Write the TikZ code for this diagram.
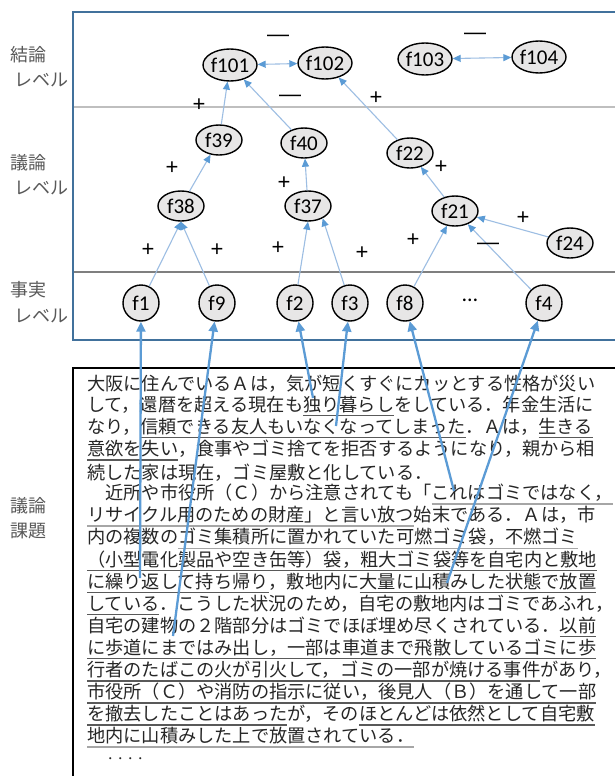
\documentclass[tikz,border=0pt]{standalone}
\usepackage{fontspec}
\setmainfont{Liberation Sans}
\newfontfamily\jp{Noto Sans CJK JP}
\newfontfamily\nf{Carlito}
\usetikzlibrary{arrows.meta,shapes.geometric}
\definecolor{framebl}{HTML}{41719C}
\definecolor{sepl}{HTML}{BFBFBF}
\definecolor{sepd}{HTML}{7F7F7F}
\definecolor{linkc}{HTML}{9DBEE3}
\definecolor{tipc}{HTML}{5B9BD5}
\definecolor{srcc}{HTML}{5B9BD5}
\definecolor{nodefill}{HTML}{E7E6E6}
\definecolor{lab}{HTML}{595959}
\definecolor{ulc}{HTML}{595959}
\definecolor{ulg}{HTML}{A6A6A6}
\definecolor{txt}{HTML}{262626}
\newcommand\zw[1]{\makebox[0pt]{#1}}
\newcommand\jul[2][ulc]{{\setbox0\hbox{#2}\rlap{\color{#1}\rule[-5pt]{\wd0}{1.3pt}}\box0}}
\tikzset{
  topnode/.style={ellipse, draw=black, line width=1.4pt, fill=nodefill, minimum width=54pt, minimum height=32pt, inner sep=0pt, font=\nf\fontsize{21}{21}\selectfont},
  midnode/.style={topnode, minimum width=46pt, minimum height=30pt},
  factnode/.style={topnode, minimum width=36pt, minimum height=36pt},
  link/.style={draw=linkc, line width=1.1pt, -{Triangle[length=8pt,width=7pt,color=tipc]}},
  dlink/.style={draw=linkc, line width=1.1pt, {Triangle[length=8pt,width=7pt,color=tipc]}-{Triangle[length=8pt,width=7pt,color=tipc]}},
  src/.style={draw=srcc, line width=2.3pt, -{Triangle[length=10pt,width=9pt]}},
  sign/.style={font=\fontsize{22}{22}\selectfont, inner sep=0pt},
  lvl/.style={font=\jp\fontsize{18}{18}\selectfont, text=lab, anchor=west, inner sep=0pt},
  tl/.style={font=\jp\fontsize{18.2}{22}\selectfont, text=txt, anchor=west, inner sep=0pt},
}
\begin{document}
\begin{tikzpicture}[x=1pt,y=-1pt]
\fill[white] (0,0) rectangle (615,776);
\useasboundingbox (0,0) rectangle (615,776);
% frames
\draw[sepl, line width=2pt] (74,107) -- (615,107);
\draw[sepd, line width=2pt] (74,272) -- (615,272);
\draw[framebl, line width=2pt] (615,12) -- (73,12) -- (73,340) -- (615,340);
\draw[black, line width=2.5pt] (615,368) -- (73,368) -- (73,777);
% level labels
\node[lvl] (l1a) at (10,55) {結論};
\node[lvl] (l1b) at (14,80) {レベル};
\node[lvl] (l2a) at (10,163) {議論};
\node[lvl] (l2b) at (14,188) {レベル};
\node[lvl] (l3a) at (10,290) {事実};
\node[lvl] (l3b) at (14,316) {レベル};
\node[lvl] (l4a) at (10,506) {議論};
\node[lvl] (l4b) at (10,531) {課題};
% nodes
\node[topnode] (f101) at (230,65) {\zw{f101}};
\node[topnode] (f102) at (325,63) {\zw{f102}};
\node[topnode] (f103) at (425,59) {\zw{f103}};
\node[topnode] (f104) at (539,57) {\zw{f104}};
\node[midnode] (f39) at (219,140) {\zw{f39}};
\node[midnode] (f40) at (304,143) {\zw{f40}};
\node[midnode] (f22) at (410,153) {\zw{f22}};
\node[midnode] (f38) at (181,206) {\zw{f38}};
\node[midnode] (f37) at (308,206) {\zw{f37}};
\node[midnode] (f21) at (455,211) {\zw{f21}};
\node[midnode] (f24) at (570,243) {\zw{f24}};
\node[factnode] (f1) at (141,303) {\zw{f1}};
\node[factnode] (f9) at (217,303) {\zw{f9}};
\node[factnode] (f2) at (295,303) {\zw{f2}};
\node[factnode] (f3) at (350,303) {\zw{f3}};
\node[factnode] (f8) at (405,303) {\zw{f8}};
\node[font=\nf\fontsize{22}{22}\selectfont, inner sep=0pt] (dots) at (470,300) {…};
\node[factnode] (f4) at (544,303) {\zw{f4}};
% links
\draw[dlink] (f101) -- (f102);
\draw[dlink] (f103) -- (f104);
\draw[link] (f39) -- (f101);
\draw[link] (f40) -- (f101);
\draw[link] (f22) -- (f102);
\draw[link] (f38) -- (f39);
\draw[link] (f37) -- (f40);
\draw[link] (f21) -- (f22);
\draw[link] (f1) -- (f38.south);
\draw[link] (f9) -- (f38.south);
\draw[link] (f2) -- (f37.south);
\draw[link] (f3) -- (f37.-40);
\draw[link] (f8) -- (f21);
\draw[link] (f4) -- (f21);
\draw[link] (f24) -- (f21);
% signs
\node[sign] (m1) at (278,38) {—};
\node[sign] (m2) at (475,36) {—};
\node[sign] (p1) at (199,105) {+};
\node[sign] (m3) at (290,98) {—};
\node[sign] (p2) at (376,98) {+};
\node[sign] (p3) at (172,168) {+};
\node[sign] (p4) at (284,183) {+};
\node[sign] (p5) at (441,167) {+};
\node[sign] (p6) at (148,250) {+};
\node[sign] (p7) at (217,250) {+};
\node[sign] (p8) at (278,248) {+};
\node[sign] (p9) at (362,253) {+};
\node[sign] (p10) at (413,240) {+};
\node[sign] (m4) at (488,246) {—};
\node[sign] (p11) at (523,218) {+};
% text
\node[tl] (t1) at (87,384.0) {大阪に住んでいるＡは，気が短くすぐにカッとする性格が災い};
\node[tl] (t2) at (87,406.1) {して，還暦を超える現在も\jul{独り暮らし}をしている．年金生活に};
\node[tl] (t3) at (87,428.2) {なり，\jul{信頼できる友人もいなくなってしまった}．Ａは，\jul{生きる}};
\node[tl] (t4) at (87,450.3) {\jul{意欲を失い}，食事やゴミ捨てを拒否するようになり，親から相};
\node[tl] (t5) at (87,472.4) {続した家は現在，ゴミ屋敷と化している．};
\node[tl] (t6) at (87,494.5) {　近所や市役所（Ｃ）から注意されても「\jul[ulg]{これはゴミではなく，}};
\node[tl] (t7) at (87,516.6) {\jul[ulg]{リサイクル用のための財産」と言い放つ}始末である．Ａは，市};
\node[tl] (t8) at (87,538.7) {内の複数の\jul[ulg]{ゴミ集積所に置かれていた可燃ゴミ袋，不燃ゴミ}};
\node[tl] (t9) at (87,560.8) {\jul{（小型電化製品や空き缶等）袋，粗大ゴミ袋等を自宅内と敷地}};
\node[tl] (t10) at (87,582.9) {\jul{に繰り返して持ち帰り}，敷地内に\jul{大量に山積みした状態で放置}};
\node[tl] (t11) at (87,605.0) {\jul{している}．こうした状況のため，自宅の敷地内はゴミであふれ，};
\node[tl] (t12) at (87,627.1) {自宅の建物の２階部分はゴミでほぼ埋め尽くされている．\jul{以前}};
\node[tl] (t13) at (87,649.2) {\jul{に歩道にまではみ出し，一部は車道まで飛散しているゴミに歩}};
\node[tl] (t14) at (87,671.3) {\jul{行者のたばこの火が引火して，ゴミの一部が焼ける事件}があり，};
\node[tl] (t15) at (87,693.4) {\jul{市役所（Ｃ）や消防の指示に従い，後見人（Ｂ）を通して一部}};
\node[tl] (t16) at (87,715.5) {\jul{を撤去したことはあった}が，その\jul{ほとんどは依然として自宅敷}};
\node[tl] (t17) at (87,737.6) {\jul[ulg]{地内に山積みした上で放置されている．}};
\node[tl] (t18) at (87,759.7) {　{\fontsize{10}{10}\selectfont ・・・・}};
% source arrows
\coordinate (s1) at (140,578);
\coordinate (s9) at (173,636);
\coordinate (s2) at (313,398);
\coordinate (s3) at (336,426);
\coordinate (s8) at (454,491);
\coordinate (s4) at (447,583);
\draw[src] (s1) -- (f1);
\draw[src] (s9) -- (f9);
\draw[src] (s2) -- (f2);
\draw[src] (s3) -- (f3);
\draw[src] (s8) -- (f8);
\draw[src] (s4) -- (f4);
\end{tikzpicture}
\end{document}
